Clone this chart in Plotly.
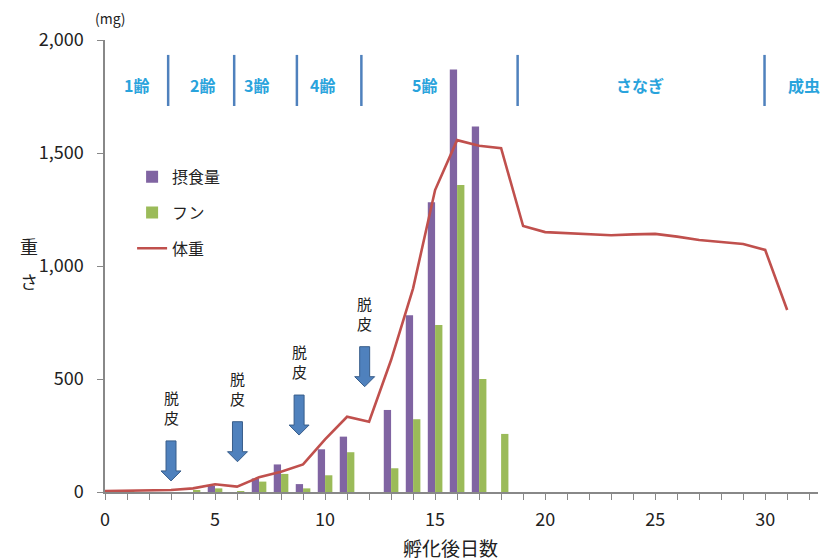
import plotly.graph_objects as go

# ---- data ----
bar_days = list(range(0, 19))
intake = [0, 0, 0, 0, 0, 28, 0, 60, 122, 35, 189, 245, 0, 363, 782, 1282, 1870, 1617, 0]
feces = [0, 9, 0, 0, 9, 16, 3, 46, 80, 16, 74, 176, 0, 105, 322, 739, 1358, 500, 257]

line_days = list(range(0, 32))
weight = [4, 5, 9, 9, 16, 34, 24, 65, 90, 122, 233, 333, 311, 584, 901, 1336, 1557,
          1532, 1521, 1177, 1150, 1145, 1142, 1136, 1140, 1142, 1130, 1115, 1106,
          1097, 1071, 805]

stage_labels = ["1齢", "2齢", "3齢", "4齢", "5齢", "さなぎ", "成虫"]
stage_label_x = [1.45, 4.45, 6.9, 9.9, 14.5, 24.3, 31.75]
stage_dividers = [2.87, 5.87, 8.72, 11.65, 18.75, 29.97]

molt_days = [3.0, 6.02, 8.82, 11.8]
molt_tip = [49, 134, 252, 466]
molt_label = "脱<br>皮"

x_ticks = [0, 5, 10, 15, 20, 25, 30]
y_ticks = [0, 500, 1000, 1500, 2000]
y_ticktext = ["0", "500", "1,000", "1,500", "2,000"]

PURPLE = "#8064A2"
GREEN = "#9BBB59"
RED = "#C0504D"
ARROW = "#4F81BD"
ARROW_EDGE = "#385D8A"
STAGE = "#29A3DC"
DIVIDER = "#4F81BD"
FONT = "Noto Sans CJK JP"
TXT = "#222222"

fig = go.Figure()
fig.add_trace(go.Bar(x=bar_days, y=intake, name="摂食量", marker_color=PURPLE,
                     marker_line_width=0, legendgroup="a"))
fig.add_trace(go.Bar(x=bar_days, y=feces, name="フン", marker_color=GREEN,
                     marker_line_width=0, legendgroup="b"))
fig.add_trace(go.Scatter(x=line_days, y=weight, name="体重", mode="lines",
                         line=dict(color=RED, width=2.6), legendgroup="c"))

# stage dividers and labels
for d in stage_dividers:
    fig.add_shape(type="line", xref="x", yref="y", x0=d, x1=d, y0=1708, y1=1934,
                  line=dict(color=DIVIDER, width=2.5))
for lab, xx in zip(stage_labels, stage_label_x):
    fig.add_annotation(x=xx, y=1800, xref="x", yref="y", text="<b>%s</b>" % lab,
                       showarrow=False, font=dict(family=FONT, size=16, color=STAGE))

# molt arrows (block arrows drawn relative to each molt day / tip value)
px_x = 1 / 22.03   # days per pixel
px_y = 4.425       # mg per pixel
for d, tip in zip(molt_days, molt_tip):
    sh = 5 * px_x
    hh = 10 * px_x
    top = tip + 40 * px_y
    neck = tip + 10 * px_y
    path = (f"M{d - sh},{top} L{d + sh},{top} L{d + sh},{neck} L{d + hh},{neck} "
            f"L{d},{tip} L{d - hh},{neck} L{d - sh},{neck} Z")
    fig.add_shape(type="path", xref="x", yref="y", path=path,
                  fillcolor=ARROW, line=dict(color=ARROW_EDGE, width=1))
    fig.add_annotation(x=d, y=top + 11 * px_y, xref="x", yref="y", text=molt_label,
                       showarrow=False, yanchor="bottom",
                       font=dict(family=FONT, size=15, color=TXT))

# axis titles as free text
fig.add_annotation(text="重", xref="paper", yref="paper", x=-0.122, y=0.545,
                   showarrow=False, font=dict(family=FONT, size=18, color=TXT))
fig.add_annotation(text="さ", xref="paper", yref="paper", x=-0.122, y=0.467,
                   showarrow=False, font=dict(family=FONT, size=18, color=TXT))
fig.add_annotation(text="(mg)", xref="paper", yref="paper", x=0.008, y=1.049,
                   xanchor="center", yanchor="middle", showarrow=False,
                   font=dict(family=FONT, size=14, color=TXT))
fig.add_annotation(text="孵化後日数", xref="paper", yref="paper", x=0.485, y=-0.122,
                   xanchor="center", yanchor="middle", showarrow=False,
                   font=dict(family=FONT, size=19, color=TXT))

fig.update_layout(
    width=821, height=560,
    margin=dict(l=105, r=3, t=40, b=68),
    paper_bgcolor="white", plot_bgcolor="white",
    barmode="group", bargap=0.336, bargroupgap=0,
    font=dict(family=FONT, size=18, color=TXT),
    showlegend=True,
    legend=dict(x=0.038, y=0.735, xanchor="left", yanchor="top",
                font=dict(family=FONT, size=16, color=TXT),
                tracegroupgap=12, bgcolor="rgba(0,0,0,0)", itemwidth=30),
)

fig.update_xaxes(range=[0, 32.4], tickmode="array", tickvals=x_ticks,
                 ticks="outside", ticklen=6, tickcolor="#888888",
                 showline=True, linecolor="#888888", linewidth=1.5,
                 showgrid=False, zeroline=False, ticklabelstandoff=5,
                 minor=dict(dtick=1, ticks="outside", ticklen=6, tickcolor="#888888"),
                 tickfont=dict(family=FONT, size=18, color=TXT))
fig.update_yaxes(range=[0, 2000], tickmode="array", tickvals=y_ticks, ticktext=y_ticktext,
                 ticks="outside", ticklen=6, tickcolor="#888888",
                 showline=True, linecolor="#888888", linewidth=1.5,
                 showgrid=False, zeroline=False, ticklabelstandoff=10,
                 tickfont=dict(family=FONT, size=18, color=TXT))

# remove the default 8px page margin so the 821x560 figure fills the window exactly
fig.write_html("out.html", config={"displayModeBar": False},
               post_script="document.body.style.margin='0';document.body.style.overflow='hidden';")
